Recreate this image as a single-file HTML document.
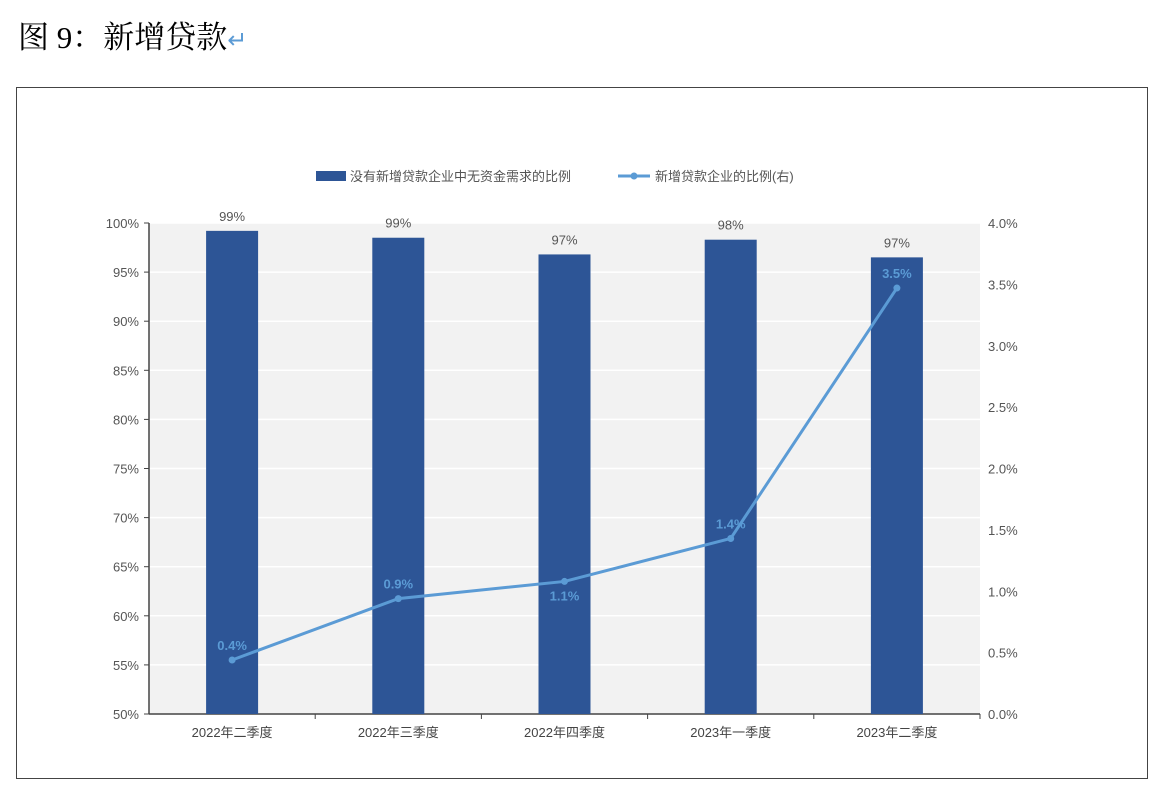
<!DOCTYPE html>
<html><head><meta charset="utf-8"><style>
body{margin:0;width:1158px;height:792px;background:#fff;overflow:hidden;position:relative;font-family:"Liberation Sans","Noto Sans CJK SC",sans-serif}
#title{position:absolute;left:18px;top:12px;font-family:"Liberation Serif","Noto Serif CJK SC",serif;font-size:31px;color:#000}
#title span{color:#5b9bd5;font-size:24px}
#frame{position:absolute;left:16px;top:87px;width:1132px;height:692px;border:1.5px solid #444;box-sizing:border-box}
svg{position:absolute;left:0;top:0}
</style></head><body>
<div id="title">图 9：新增贷款<span>↵</span></div>
<div id="frame"></div>
<svg id="chart" width="1158" height="792"></svg>
<script>
const categories=["2022年二季度","2022年三季度","2022年四季度","2023年一季度","2023年二季度"];
const barValues=[99.2,98.5,96.8,98.3,96.5];
const barLabels=["99%","99%","97%","98%","97%"];
const lineValues=[0.44,0.94,1.08,1.43,3.47];
const lineLabels=["0.4%","0.9%","1.1%","1.4%","3.5%"];
const leftTicks=[50,55,60,65,70,75,80,85,90,95,100];
const rightTicks=[0,0.5,1,1.5,2,2.5,3,3.5,4];
const NS="http://www.w3.org/2000/svg";
const svg=document.getElementById('chart');
const X0=149,X1=980,Y0=714,Y1=223;
const yL=v=>Y0-(v-50)/50*(Y0-Y1);
const yR=v=>Y0-v/4*(Y0-Y1);
const band=(X1-X0)/categories.length;
const xC=i=>X0+band*(i+0.5);
function mk(tag,attrs,text){const e=document.createElementNS(NS,tag);for(const k in attrs)e.setAttribute(k,attrs[k]);if(text!==undefined)e.textContent=text;svg.appendChild(e);return e;}
let e=mk('rect',{x:X0,y:Y1,width:X1-X0,height:Y0-Y1,fill:'#f2f2f2'});


leftTicks.forEach((t,i)=>{
  const y=yL(t);
  if(t>50){let g=mk('line',{x1:X0,x2:X1,y1:y,y2:y,stroke:'#fff','stroke-width':1.5});
  
  }
  mk('line',{x1:X0-5,x2:X0,y1:y,y2:y,stroke:'#444'});
  let l=mk('text',{x:X0-10,y:y+5,'text-anchor':'end','font-size':13,fill:'#555'},t+'%');
  
  
});
rightTicks.forEach(t=>{
  let l=mk('text',{x:X1+8,y:yR(t)+5,'font-size':13,fill:'#555'},t.toFixed(1)+'%');
  
  
});
mk('line',{x1:X0,x2:X0,y1:Y1,y2:Y0,stroke:'#444','stroke-width':1.5});
mk('line',{x1:X0,x2:X1,y1:Y0,y2:Y0,stroke:'#444','stroke-width':1.5});
categories.forEach((c,i)=>{
  const tx=X0+band*(i+1);
  mk('line',{x1:tx,x2:tx,y1:Y0,y2:Y0+5,stroke:'#444'});
  let b=mk('rect',{x:xC(i)-26,y:yL(barValues[i]),width:52,height:Y0-yL(barValues[i]),fill:'#2d5596'});
  
  
  let bl=mk('text',{x:xC(i),y:yL(barValues[i])-10,'text-anchor':'middle','font-size':13,fill:'#555'},barLabels[i]);
  
  
  let cl=mk('text',{x:xC(i),y:Y0+23,'text-anchor':'middle','font-size':13,fill:'#444'},c);
  
  
});
mk('line',{x1:X0,x2:X0-5,y1:Y0,y2:Y0,stroke:'#444'});
const pts=lineValues.map((v,i)=>xC(i)+','+yR(v)).join(' ');
let pl=mk('polyline',{points:pts,fill:'none',stroke:'#5b9bd5','stroke-width':3});


lineValues.forEach((v,i)=>{
  let c=mk('circle',{cx:xC(i),cy:yR(v),r:3.5,fill:'#5b9bd5'});
  
  
  const dy=(i===2)?19:-10;
  let t=mk('text',{x:xC(i),y:yR(v)+dy,'text-anchor':'middle','font-size':13,'font-weight':'bold',fill:'#5b9bd5'},lineLabels[i]);
  
  
});
let lg1=mk('rect',{x:316,y:171,width:30,height:10,fill:'#2d5596'});


let lt1=mk('text',{x:350,y:181,'font-size':13,fill:'#555'},'没有新增贷款企业中无资金需求的比例');


mk('line',{x1:618,x2:650,y1:176,y2:176,stroke:'#5b9bd5','stroke-width':3});
mk('circle',{cx:634,cy:176,r:3.5,fill:'#5b9bd5'});
let lt2=mk('text',{x:655,y:181,'font-size':13,fill:'#555'},'新增贷款企业的比例(右)');


</script>
</body></html>
